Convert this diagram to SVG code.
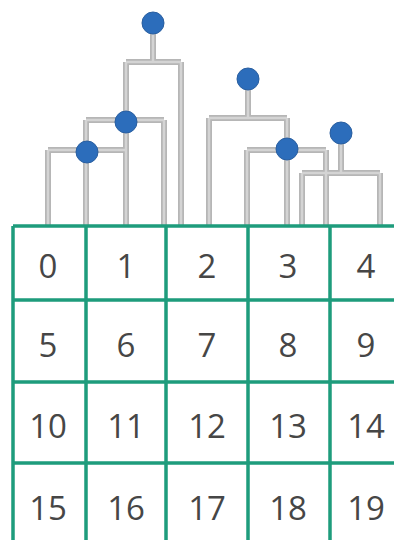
<svg xmlns="http://www.w3.org/2000/svg" width="394" height="540" viewBox="0 0 394 540">
<style>
.grid{stroke:#1e9c7c;stroke-width:3.5;fill:none}
.lo{stroke:#b6b6b6;stroke-width:6;fill:none;stroke-linecap:butt;stroke-linejoin:miter}
.li{stroke:#d4d4d4;stroke-width:2.5;fill:none;stroke-linecap:butt;stroke-linejoin:miter}
.dot{fill:#2c6dbb;stroke:#2a5fa0;stroke-width:1}
.num{font-family:"Open Sans","Noto Sans",sans-serif;font-size:33px;fill:#464646;text-anchor:middle}
</style>
<defs>
<path id="tree" d="M153 23V62M126 62H181M126 62V226M181 62V226M86 120H164M86 120V226M164 120V226M48 150H126M48 150V226M248 79V118M209 118H287M209 118V226M287 118V226M247 150H326M247 150V226M326 150V226M341 133V173M302 173H380M302 173V226M380 173V226"/>
</defs>
<rect width="394" height="540" fill="#fff"/>
<g id="connectors">
<use href="#tree" class="lo"/>
<use href="#tree" class="li"/>
</g>
<g id="node-root"><circle class="dot" cx="153" cy="23" r="11"/></g>
<g id="node-b"><circle class="dot" cx="126" cy="122" r="11"/></g>
<g id="node-a"><circle class="dot" cx="87" cy="152" r="11"/></g>
<g id="node-c"><circle class="dot" cx="248" cy="79" r="11"/></g>
<g id="node-d"><circle class="dot" cx="287" cy="149" r="11"/></g>
<g id="node-e"><circle class="dot" cx="341" cy="133" r="11"/></g>
<g id="grid">
<path class="grid" d="M13 226H394M13 300H394M13 382H394M13 463H394M13 226V540M86 226V540M166 226V540M248 226V540M330 226V540"/>
</g>
<g id="cells" class="num">
<g id="cell-0"><text x="48" y="278">0</text></g>
<g id="cell-1"><text x="126" y="278">1</text></g>
<g id="cell-2"><text x="207" y="278">2</text></g>
<g id="cell-3"><text x="288" y="278">3</text></g>
<g id="cell-4"><text x="366" y="278">4</text></g>
<g id="cell-5"><text x="48" y="357">5</text></g>
<g id="cell-6"><text x="126" y="357">6</text></g>
<g id="cell-7"><text x="207" y="357">7</text></g>
<g id="cell-8"><text x="288" y="357">8</text></g>
<g id="cell-9"><text x="366" y="357">9</text></g>
<g id="cell-10"><text x="48" y="438">10</text></g>
<g id="cell-11"><text x="126" y="438">11</text></g>
<g id="cell-12"><text x="207" y="438">12</text></g>
<g id="cell-13"><text x="288" y="438">13</text></g>
<g id="cell-14"><text x="366" y="438">14</text></g>
<g id="cell-15"><text x="48" y="520">15</text></g>
<g id="cell-16"><text x="126" y="520">16</text></g>
<g id="cell-17"><text x="207" y="520">17</text></g>
<g id="cell-18"><text x="288" y="520">18</text></g>
<g id="cell-19"><text x="366" y="520">19</text></g>
</g>
</svg>
